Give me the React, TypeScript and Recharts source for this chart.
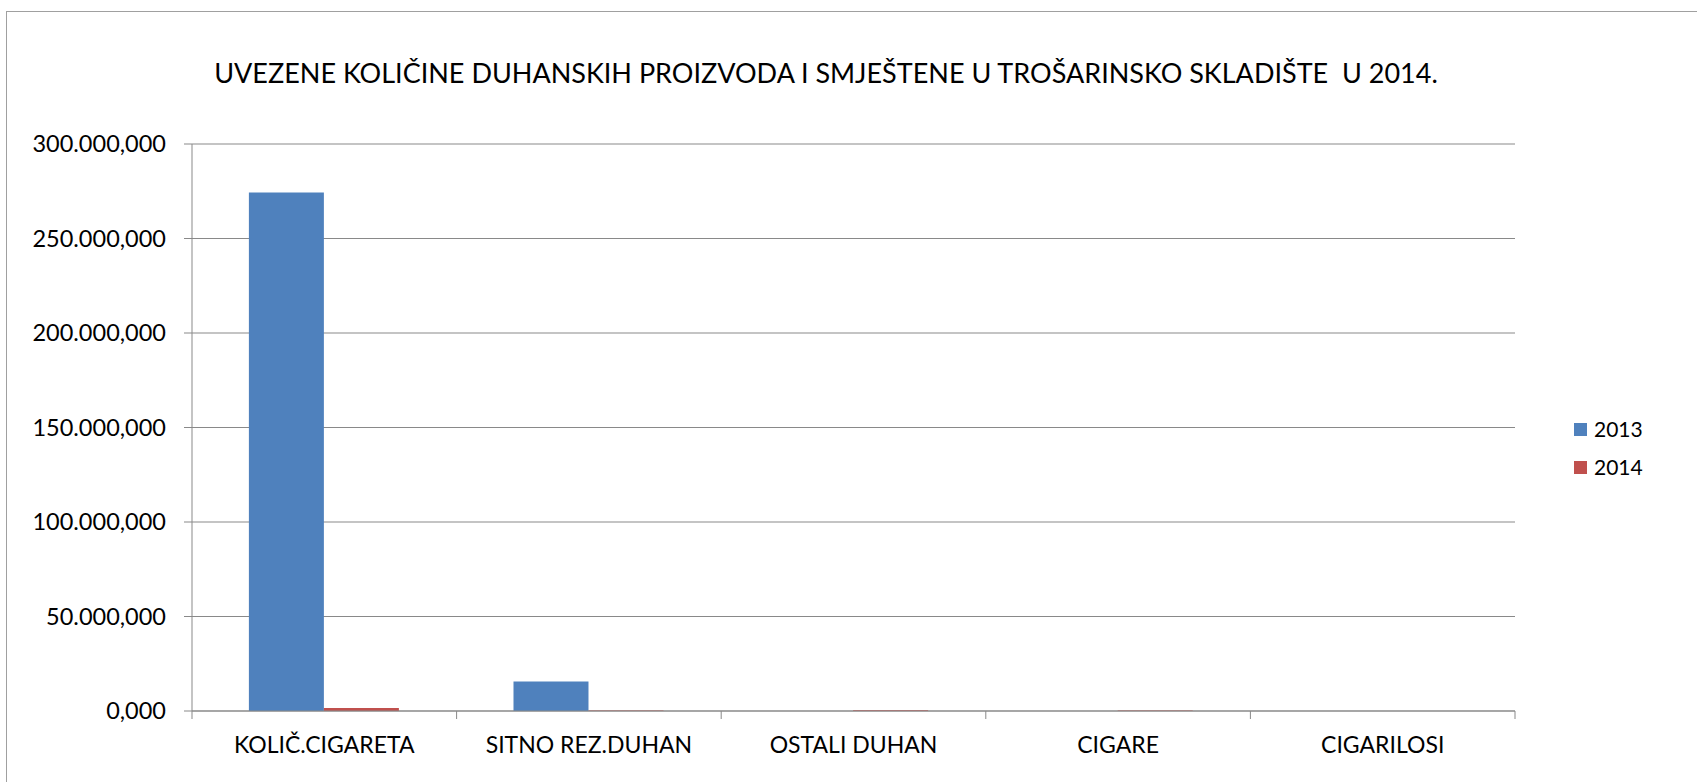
import React from 'react';
import { BarChart, Bar, XAxis, YAxis, CartesianGrid, Legend } from 'recharts';

const categories = ['KOLIČ.CIGARETA', 'SITNO REZ.DUHAN', 'OSTALI DUHAN', 'CIGARE', 'CIGARILOSI'];
const values2013 = [274400, 15600, 50, 30, 10];
const values2014 = [1600, 300, 350, 300, 40];
const yTicks = [0, 50000, 100000, 150000, 200000, 250000, 300000];
const seriesNames = ['2013', '2014'];
const title = 'UVEZENE KOLIČINE DUHANSKIH PROIZVODA I SMJEŠTENE U TROŠARINSKO SKLADIŠTE  U 2014.';

const data = categories.map((c, i) => ({ name: c, [seriesNames[0]]: values2013[i], [seriesNames[1]]: values2014[i] }));

const FONT = 'Lato, "Open Sans", sans-serif';
const GRID = '#898989';

function fmt(v: number): string {
  const int = Math.round(v).toString().replace(/\B(?=(\d{3})+(?!\d))/g, '.');
  return int + ',000';
}

const XTick = (props: any) => {
  const { x, y, payload, index, visibleTicksCount } = props;
  const half = typeof payload.offset === 'number' && payload.offset > 0 ? payload.offset : 132.3;
  const axisY = y - 26;
  return (
    <g>
      <line x1={x - half} x2={x - half} y1={axisY} y2={axisY + 8} stroke={GRID} strokeWidth={1} />
      {index === visibleTicksCount - 1 && (
        <line x1={x + half} x2={x + half} y1={axisY} y2={axisY + 8} stroke={GRID} strokeWidth={1} />
      )}
      <text x={x} y={y} dy="0.71em" textAnchor="middle" fontFamily={FONT} fontSize={23} fill="#000">
        {payload.value}
      </text>
    </g>
  );
};

const LegendContent = (p: any) => (
  <div style={{ fontFamily: FONT, fontSize: 21, color: '#000' }}>
    {(p.payload || []).map((item: any) => (
      <div key={item.value} style={{ display: 'flex', alignItems: 'center', height: 38 }}>
        <span style={{ display: 'inline-block', width: 13, height: 13, background: item.color, marginRight: 7 }} />
        <span style={{ lineHeight: '38px' }}>{item.value}</span>
      </div>
    ))}
  </div>
);

export default function App() {
  return (
    <div style={{ position: 'absolute', left: 0, top: 0, width: 1697, height: 782, overflow: 'hidden', background: '#fff' }}>
      <div style={{ position: 'absolute', left: 6, top: 11, width: 2000, height: 2000, border: '1px solid #a0a0a0' }} />
      <svg style={{ position: 'absolute', left: 0, top: 0 }} width={1697} height={120}>
        <text x={826} y={83.3} textAnchor="middle" fontFamily={FONT} fontSize={27} fill="#000" style={{ whiteSpace: 'pre' }} xmlSpace="preserve">
          {title}
        </text>
      </svg>
      <div style={{ position: 'absolute', left: 0, top: 0 }}>
        <BarChart
          width={1697}
          height={782}
          data={data}
          margin={{ top: 144, right: 182, bottom: 0, left: 0 }}
          barGap={0}
          barCategoryGap="21.5%"
        >
          <CartesianGrid vertical={false} stroke={GRID} />
          <XAxis
            dataKey="name"
            height={71}
            interval={0}
            tickSize={8}
            tickMargin={18}
            tickLine={false}
            axisLine={{ stroke: GRID }}
            tick={<XTick />}
          />
          <YAxis
            width={192}
            domain={[0, 300000]}
            ticks={yTicks}
            interval={0}
            tickSize={8}
            tickMargin={18}
            tickLine={{ stroke: GRID }}
            axisLine={{ stroke: GRID }}
            tickFormatter={fmt}
            tick={{ fontFamily: FONT, fontSize: 23.5, fill: '#000' }}
          />
          <Legend
            layout="vertical"
            align="center"
            verticalAlign="middle"
            wrapperStyle={{ position: 'absolute', left: 1574, top: 410, width: 100 }}
            content={<LegendContent />}
          />
          <Bar dataKey={seriesNames[0]} fill="#4F81BD" isAnimationActive={false} />
          <Bar dataKey={seriesNames[1]} fill="#C0504D" isAnimationActive={false} />
        </BarChart>
      </div>
    </div>
  );
}
